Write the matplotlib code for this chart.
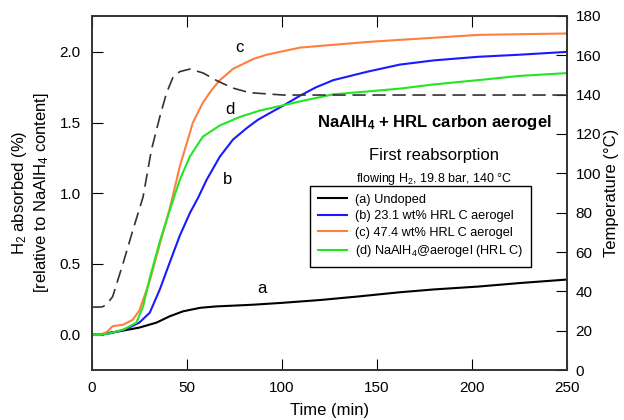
import matplotlib
matplotlib.use('Agg')
import matplotlib.pyplot as plt

plt.rcParams['font.family'] = ['Liberation Sans', 'DejaVu Sans']
plt.rcParams['mathtext.fontset'] = 'custom'
plt.rcParams['mathtext.rm'] = 'Liberation Sans'
plt.rcParams['mathtext.default'] = 'regular'

# (a) undoped
t_a = [0, 4, 7.7, 15, 25, 34, 41, 48, 57, 65.6, 74, 85, 100, 120, 140, 162, 180, 203, 225, 250]
h_a = [0, 0.0, 0.01, 0.025, 0.05, 0.085, 0.13, 0.165, 0.19, 0.2, 0.205, 0.212, 0.225, 0.245, 0.27, 0.30, 0.32, 0.34, 0.365, 0.39]

# (b) 23.1 wt% HRL C aerogel
t_b = [0, 5, 10, 18, 25, 30.5, 35.8, 41, 46.3, 51.6, 56, 60.4, 67.4, 74.3, 81.4, 87.4, 94, 100.7, 109.5, 118, 127, 145, 162, 180, 203, 225, 250]
h_b = [0, 0.0, 0.01, 0.04, 0.085, 0.155, 0.32, 0.51, 0.70, 0.86, 0.97, 1.095, 1.26, 1.38, 1.46, 1.52, 1.57, 1.62, 1.69, 1.75, 1.80, 1.86, 1.91, 1.94, 1.965, 1.98, 2.0]

# (c) 47.4 wt% HRL C aerogel
t_c = [0, 5, 8, 11, 16.5, 21.6, 25, 30.5, 35.8, 41, 46.3, 53.2, 58.4, 63, 67.4, 74.3, 85, 92, 109.5, 127, 145, 162, 180, 203, 225, 250]
h_c = [0, 0.0, 0.02, 0.06, 0.07, 0.106, 0.17, 0.38, 0.64, 0.89, 1.19, 1.50, 1.64, 1.73, 1.80, 1.88, 1.95, 1.98, 2.03, 2.05, 2.07, 2.085, 2.10, 2.12, 2.125, 2.13]

# (d) NaAlH4@aerogel (HRL C)
t_d = [0, 5, 9.5, 16.5, 23.5, 27, 30.5, 35.8, 41, 46.3, 51.6, 58.4, 67.4, 77.9, 88.4, 100, 109.5, 127, 145, 162, 180, 203, 225, 250]
h_d = [0, 0.0, 0.01, 0.035, 0.085, 0.2, 0.40, 0.66, 0.88, 1.095, 1.26, 1.40, 1.48, 1.54, 1.585, 1.62, 1.65, 1.70, 1.72, 1.74, 1.77, 1.80, 1.83, 1.85]

# temperature (right axis)
t_T = [0, 4, 5.8, 8, 11, 16.5, 21.6, 27, 31.4, 35.8, 39.3, 42.8, 46.3, 51.6, 58.6, 66, 74, 83, 100.7, 150, 200, 250]
temp = [32, 32, 32.2, 33.5, 37.3, 54.3, 71, 88, 112, 128.7, 140.8, 149, 151.7, 153, 151, 147, 143.4, 141, 139.8, 139.8, 139.8, 139.8]

fig = plt.figure(figsize=(6.24, 4.2), dpi=100)
ax = fig.add_axes([0.147, 0.119, 0.762, 0.843])
ax2 = ax.twinx()

ax.plot(t_a, h_a, color='black', lw=1.5, label='(a) Undoped')
ax.plot(t_b, h_b, color='#1a1aff', lw=1.5, label='(b) 23.1 wt% HRL C aerogel')
ax.plot(t_c, h_c, color='#ff7f40', lw=1.5, label='(c) 47.4 wt% HRL C aerogel')
ax.plot(t_d, h_d, color='#22e622', lw=1.5, label='(d) NaAlH$_4$@aerogel (HRL C)')
ax2.plot(t_T, temp, color='#333333', lw=1.2, ls=(0, (8, 4)))

ax.set_xlim(0, 250)
ax.set_ylim(-0.25, 2.254)
ax2.set_ylim(0, 180)
ax.set_xticks([0, 50, 100, 150, 200, 250])
ax.set_yticks([0.0, 0.5, 1.0, 1.5, 2.0])
ax.set_yticklabels(['0.0', '0.5', '1.0', '1.5', '2.0'])
ax2.set_yticks(range(0, 181, 20))

ax.tick_params(axis='x', direction='in', length=8, top=True, labelsize=11, pad=8)
ax.tick_params(axis='y', direction='in', length=8, labelsize=11, pad=8)
ax2.tick_params(axis='y', direction='in', length=8, labelsize=11, pad=6)
for a in (ax, ax2):
    for s in a.spines.values():
        s.set_color('#333333')
        s.set_linewidth(1.2)

ax.set_xlabel('Time (min)', fontsize=12, labelpad=6)
ax.set_ylabel('H$_2$ absorbed (%)\n[relative to NaAlH$_4$ content]', fontsize=12, labelpad=6)
ax2.set_ylabel('Temperature (°C)', fontsize=12, labelpad=2)

ax.text(77.9, 2.03, 'c', fontsize=12, ha='center', va='center')
ax.text(72.6, 1.59, 'd', fontsize=12, ha='center', va='center')
ax.text(71.6, 1.095, 'b', fontsize=12, ha='center', va='center')
ax.text(89.5, 0.325, 'a', fontsize=12, ha='center', va='center')

ax.text(0.72, 0.70, 'NaAlH$_4$ + HRL carbon aerogel', transform=ax.transAxes,
        ha='center', va='center', fontsize=12, fontweight='bold')
ax.text(0.72, 0.605, 'First reabsorption', transform=ax.transAxes,
        ha='center', va='center', fontsize=12)
ax.text(0.72, 0.54, 'flowing H$_2$, 19.8 bar, 140 °C', transform=ax.transAxes,
        ha='center', va='center', fontsize=9)

leg = ax.legend(loc='upper left', bbox_to_anchor=(0.459, 0.52), borderaxespad=0,
                fontsize=9.2, frameon=True, fancybox=False, edgecolor='black',
                framealpha=1, handlelength=2.3, handletextpad=0.6,
                borderpad=0.6, labelspacing=0.35)
leg.get_frame().set_linewidth(1.0)
leg.set_zorder(5)

fig.savefig('out.png', dpi=100)
